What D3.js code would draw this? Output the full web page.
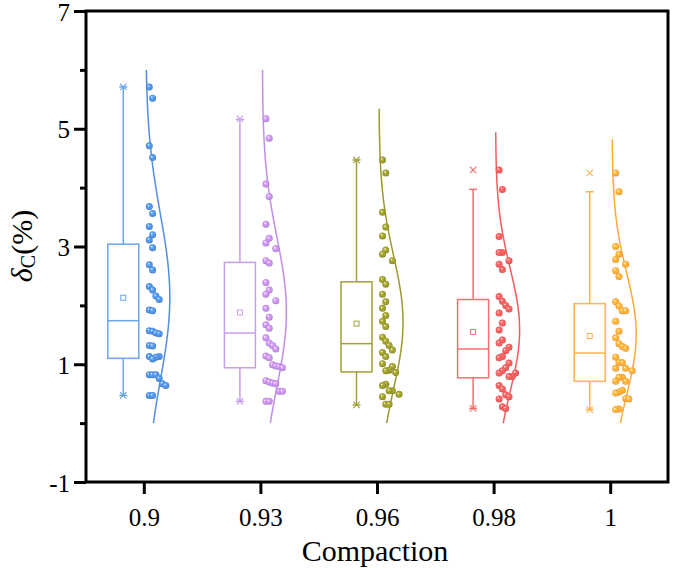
<!DOCTYPE html>
<html>
<head>
<meta charset="utf-8">
<script src="https://cdn.jsdelivr.net/npm/d3@7"></script>
<style>
  html, body { margin: 0; padding: 0; background: #fff; }
  svg { display: block; }
  svg text { font-family: "Times New Roman", "Liberation Serif", Tinos, "DejaVu Serif", serif !important; fill: #000; }
</style>
</head>
<body>
<svg id="chart" width="675" height="570"></svg>
<script>
// ---------------- data ----------------
const categories = ["0.9", "0.93", "0.96", "0.98", "1"];

const values090 = [5.71, 5.52, 4.71, 4.51, 3.68, 3.56, 3.34, 3.20, 3.11, 2.98, 2.69, 2.60,
  2.32, 2.26, 2.16, 2.10, 1.92, 1.91, 1.57, 1.56, 1.53, 1.52, 1.32, 1.31, 1.13, 1.13,
  1.12, 1.09, 0.82, 0.82, 0.82, 0.76, 0.67, 0.64, 0.47, 0.47];
const values093 = [5.17, 4.84, 4.06, 3.85, 3.38, 3.14, 3.06, 2.96, 2.76, 2.72, 2.39, 2.26,
  2.19, 2.08, 1.95, 1.80, 1.67, 1.61, 1.45, 1.36, 1.32, 1.26, 1.14, 1.11, 0.99, 0.97,
  0.96, 0.94, 0.72, 0.70, 0.68, 0.67, 0.54, 0.54, 0.37, 0.37];
const values096 = [4.47, 4.25, 3.58, 3.33, 3.18, 2.94, 2.87, 2.76, 2.44, 2.36, 2.19, 2.06,
  1.95, 1.83, 1.73, 1.64, 1.46, 1.39, 1.32, 1.24, 1.20, 1.13, 1.01, 0.96, 0.90, 0.89,
  0.86, 0.66, 0.64, 0.55, 0.55, 0.49, 0.45, 0.32, 0.32];
const values098 = [4.30, 3.97, 3.17, 2.90, 2.90, 2.76, 2.70, 2.61, 2.15, 2.07, 2.00, 1.94,
  1.87, 1.70, 1.58, 1.41, 1.36, 1.29, 1.23, 1.13, 1.11, 1.02, 0.94, 0.89, 0.85, 0.85,
  0.79, 0.79, 0.64, 0.58, 0.48, 0.45, 0.41, 0.28, 0.25];
const values100 = [4.25, 3.93, 3.00, 2.87, 2.78, 2.70, 2.59, 2.49, 2.06, 1.99, 1.91, 1.91,
  1.73, 1.56, 1.45, 1.35, 1.30, 1.27, 1.12, 1.03, 1.03, 0.93, 0.93, 0.89, 0.78, 0.78,
  0.71, 0.71, 0.56, 0.53, 0.51, 0.42, 0.41, 0.24, 0.23];
const seriesValues = [values090, values093, values096, values098, values100];

// box statistics
const q1Values     = [1.10, 0.94, 0.87, 0.77, 0.71];
const medianValues = [1.74, 1.53, 1.35, 1.26, 1.19];
const q3Values     = [3.04, 2.73, 2.40, 2.10, 2.03];
const meanValues   = [2.13, 1.88, 1.69, 1.55, 1.48];
const whiskerLow   = [0.47, 0.37, 0.31, 0.25, 0.23];
const whiskerHigh  = [5.71, 5.16, 4.47, 3.97, 3.93];
const minValues    = [0.47, 0.37, 0.31, 0.25, 0.23];
const maxValues    = [5.71, 5.17, 4.47, 4.30, 4.25];
// extent of the fitted normal curve
const curveLow     = [0, 0, 0, 0, 0];
const curveHigh    = [6.0, 6.0, 5.35, 4.95, 4.82];

const yMajorTicks = [-1, 1, 3, 5, 7];
const yMinorTicks = [0, 2, 4, 6];

// ---------------- styles ----------------
const colors    = ["#4f8fe0", "#c18ee8", "#9a9a2c", "#f45c5c", "#ffa93a"];
const boxColors = ["#6aa6ee", "#c89df0", "#a0a03a", "#f77070", "#ffb24f"];
const FONT = "'Times New Roman', 'Liberation Serif', Tinos, serif";

// ---------------- layout ----------------
const svg = d3.select("#chart");
const M = { left: 86, right: 668, top: 11, bottom: 482 };

const x = d3.scaleBand().domain(categories).range([M.left, M.right + 1]).padding(0);
const y = d3.scaleLinear().domain([-1, 7]).range([M.bottom, M.top]);

const defs = svg.append("defs");
colors.forEach((c, i) => {
  const g = defs.append("radialGradient").attr("id", "ball" + i)
    .attr("cx", "50%").attr("cy", "50%").attr("r", "55%")
    .attr("fx", "35%").attr("fy", "32%");
  g.append("stop").attr("offset", "0%").attr("stop-color", "#ffffff");
  g.append("stop").attr("offset", "30%").attr("stop-color", d3.color(c).brighter(0.4));
  g.append("stop").attr("offset", "75%").attr("stop-color", c);
  g.append("stop").attr("offset", "100%").attr("stop-color", d3.color(c).darker(0.5));
});

const boxOffset = -21;   // box centre relative to band centre
const boxW = 31;
const capW = 8;
const ptStart = 1.5;     // first jitter column relative to band centre
const ptStep = 3.3;
const ptR = 3.5;
const maxLevel = 6;
const curveAmp = 24;

const plot = svg.append("g");

categories.forEach((cat, i) => {
  const cx = x(cat) + x.bandwidth() / 2;
  const bx = cx + boxOffset;
  const col = boxColors[i];
  const g = plot.append("g");

  // whiskers
  g.append("line").attr("x1", bx).attr("x2", bx)
    .attr("y1", y(q3Values[i])).attr("y2", y(whiskerHigh[i]))
    .attr("stroke", col).attr("stroke-width", 1.5);
  g.append("line").attr("x1", bx).attr("x2", bx)
    .attr("y1", y(q1Values[i])).attr("y2", y(whiskerLow[i]))
    .attr("stroke", col).attr("stroke-width", 1.5);
  [whiskerHigh[i], whiskerLow[i]].forEach(v => {
    g.append("line").attr("x1", bx - capW / 2).attr("x2", bx + capW / 2)
      .attr("y1", y(v)).attr("y2", y(v)).attr("stroke", col).attr("stroke-width", 1.5);
  });
  // box
  g.append("rect").attr("x", bx - boxW / 2).attr("width", boxW)
    .attr("y", y(q3Values[i])).attr("height", y(q1Values[i]) - y(q3Values[i]))
    .attr("fill", "none").attr("stroke", col).attr("stroke-width", 1.5);
  g.append("line").attr("x1", bx - boxW / 2).attr("x2", bx + boxW / 2)
    .attr("y1", y(medianValues[i])).attr("y2", y(medianValues[i]))
    .attr("stroke", col).attr("stroke-width", 1.5);
  // mean marker
  g.append("rect").attr("x", bx - 2.5).attr("y", y(meanValues[i]) - 2.5)
    .attr("width", 5).attr("height", 5).attr("fill", "none")
    .attr("stroke", col).attr("stroke-width", 1);
  // min / max crosses
  [minValues[i], maxValues[i]].forEach(v => {
    const s = 3.2, yy = y(v);
    g.append("path").attr("d", `M${bx - s},${yy - s}L${bx + s},${yy + s}M${bx - s},${yy + s}L${bx + s},${yy - s}`)
      .attr("stroke", col).attr("stroke-width", 1.1).attr("fill", "none");
  });

  // normal curve
  const vals = seriesValues[i];
  const mu = d3.mean(vals), sd = d3.deviation(vals);
  const vs = d3.range(curveLow[i], curveHigh[i] + 1e-9, 0.02);
  const line = d3.line()
    .x(v => cx + ptStart + curveAmp * Math.exp(-0.5 * Math.pow((v - mu) / sd, 2)))
    .y(v => y(v));
  g.append("path").attr("d", line(vs)).attr("fill", "none")
    .attr("stroke", colors[i]).attr("stroke-width", 1.5);

  // jittered points: column packing (sorted by value), spreading into free columns
  const sorted = vals.slice().sort((a, b) => b - a);
  const placed = [];
  const pts = sorted.map((v, k) => {
    const py = y(v);
    const start = (k * 3) % 2;
    let best = start, bestCount = Infinity;
    for (let t = 0; t <= maxLevel; t++) {
      const lvl = (start + t * 2) % (maxLevel + 1);
      const near = placed.filter(p => p.lvl === lvl && Math.abs(p.py - py) < 11).length;
      if (near === 0) { best = lvl; bestCount = 0; break; }
      if (near < bestCount) { bestCount = near; best = lvl; }
    }
    const p = { v, py, lvl: best };
    placed.push(p);
    return p;
  });
  g.selectAll("circle.pt").data(pts).enter().append("circle")
    .attr("class", "pt")
    .attr("cx", d => cx + ptStart + ptR + d.lvl * ptStep)
    .attr("cy", d => d.py)
    .attr("r", ptR)
    .attr("fill", `url(#ball${i})`);
});

// ---------------- axes & frame ----------------
svg.append("rect").attr("x", M.left).attr("y", M.top)
  .attr("width", M.right - M.left).attr("height", M.bottom - M.top)
  .attr("fill", "none").attr("stroke", "#000").attr("stroke-width", 3);

const yAxis = svg.append("g").attr("transform", `translate(${M.left},0)`)
  .call(d3.axisLeft(y).tickValues(yMajorTicks).tickSize(12).tickSizeOuter(0).tickPadding(4)
    .tickFormat(d => String(d)));
yAxis.attr("font-family", FONT);
yAxis.select(".domain").remove();
yAxis.selectAll(".tick line").attr("stroke", "#000").attr("stroke-width", 3);
yAxis.selectAll(".tick text").attr("font-size", 25).attr("font-family", FONT).attr("dy", "0.36em");

const yMinor = svg.append("g").attr("transform", `translate(${M.left},0)`)
  .call(d3.axisLeft(y).tickValues(yMinorTicks).tickSize(6).tickSizeOuter(0).tickFormat(""));
yMinor.select(".domain").remove();
yMinor.selectAll(".tick line").attr("stroke", "#000").attr("stroke-width", 3);

const xAxis = svg.append("g").attr("transform", `translate(0,${M.bottom})`)
  .call(d3.axisBottom(x).tickSize(12).tickSizeOuter(0).tickPadding(14));
xAxis.attr("font-family", FONT);
xAxis.select(".domain").remove();
xAxis.selectAll(".tick line").attr("stroke", "#000").attr("stroke-width", 3);
xAxis.selectAll(".tick text").attr("font-size", 25).attr("font-family", FONT);

// axis titles
svg.append("text").attr("x", (M.left + M.right) / 2 - 2).attr("y", 561)
  .attr("text-anchor", "middle").attr("font-size", 30).attr("font-family", FONT).text("Compaction");

const yt = svg.append("text")
  .attr("transform", "translate(32,246) rotate(-90)")
  .attr("text-anchor", "middle").attr("font-size", 30).attr("font-family", FONT);
yt.append("tspan").attr("font-style", "italic").text("δ");
yt.append("tspan").attr("font-size", 20).attr("dy", 3).text("C");
yt.append("tspan").attr("dy", -3).text("(%)");
</script>
</body>
</html>
